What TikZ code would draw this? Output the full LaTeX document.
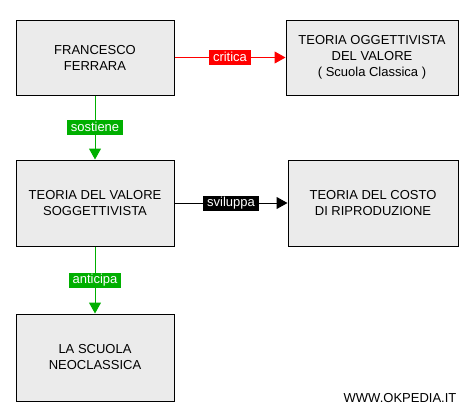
\documentclass[tikz,border=0pt]{standalone}
\usepackage{fontspec}
\setmainfont{Liberation Sans}
\usetikzlibrary{arrows.meta}
\definecolor{boxgray}{HTML}{EBEBEB}
\definecolor{linkgreen}{HTML}{00AF00}
\definecolor{linkred}{HTML}{FF0000}

\begin{document}
\begin{tikzpicture}[x=1pt, y=-1pt, >={Triangle[length=11pt,width=12pt]},
  font=\fontsize{13}{16}\selectfont, line width=1pt,
  concept/.style={draw, fill=boxgray, align=center, inner sep=0pt},
  verb/.style={fill=#1, text=white, inner xsep=4pt, inner ysep=1pt,
    text height=10pt, text depth=3pt, font=\fontsize{13}{13}\selectfont}]
  \useasboundingbox (0,0) rectangle (473,413);
  % Nodes
  \node[concept, minimum width=158pt, minimum height=75pt] (ferrara) at (95,57.5) {FRANCESCO\\FERRARA};
  \node[concept, minimum width=172pt, minimum height=75pt] (oggett) at (372,57.5) {TEORIA OGGETTIVISTA\\DEL VALORE\\( Scuola Classica )};
  \node[concept, minimum width=158pt, minimum height=86pt] (sogg) at (95,203) {TEORIA DEL VALORE\\SOGGETTIVISTA};
  \node[concept, minimum width=170pt, minimum height=86pt] (costo) at (373,203) {TEORIA DEL COSTO\\DI RIPRODUZIONE};
  \node[concept, minimum width=158pt, minimum height=87pt] (neo) at (95,357.5) {LA SCUOLA\\NEOCLASSICA};
  \node (web) at (400,398) {WWW.OKPEDIA.IT};
  % Links between concepts
  \draw[->, linkred] (ferrara) -- (oggett) node[midway, verb=linkred] {critica};
  \draw[->, linkgreen] (ferrara) -- (sogg) node[midway, verb=linkgreen] {sostiene};
  \draw[->, black] (sogg) -- (costo) node[midway, verb=black] {sviluppa};
  \draw[->, linkgreen] (sogg) -- (neo) node[midway, verb=linkgreen] {anticipa};
\end{tikzpicture}
\end{document}
